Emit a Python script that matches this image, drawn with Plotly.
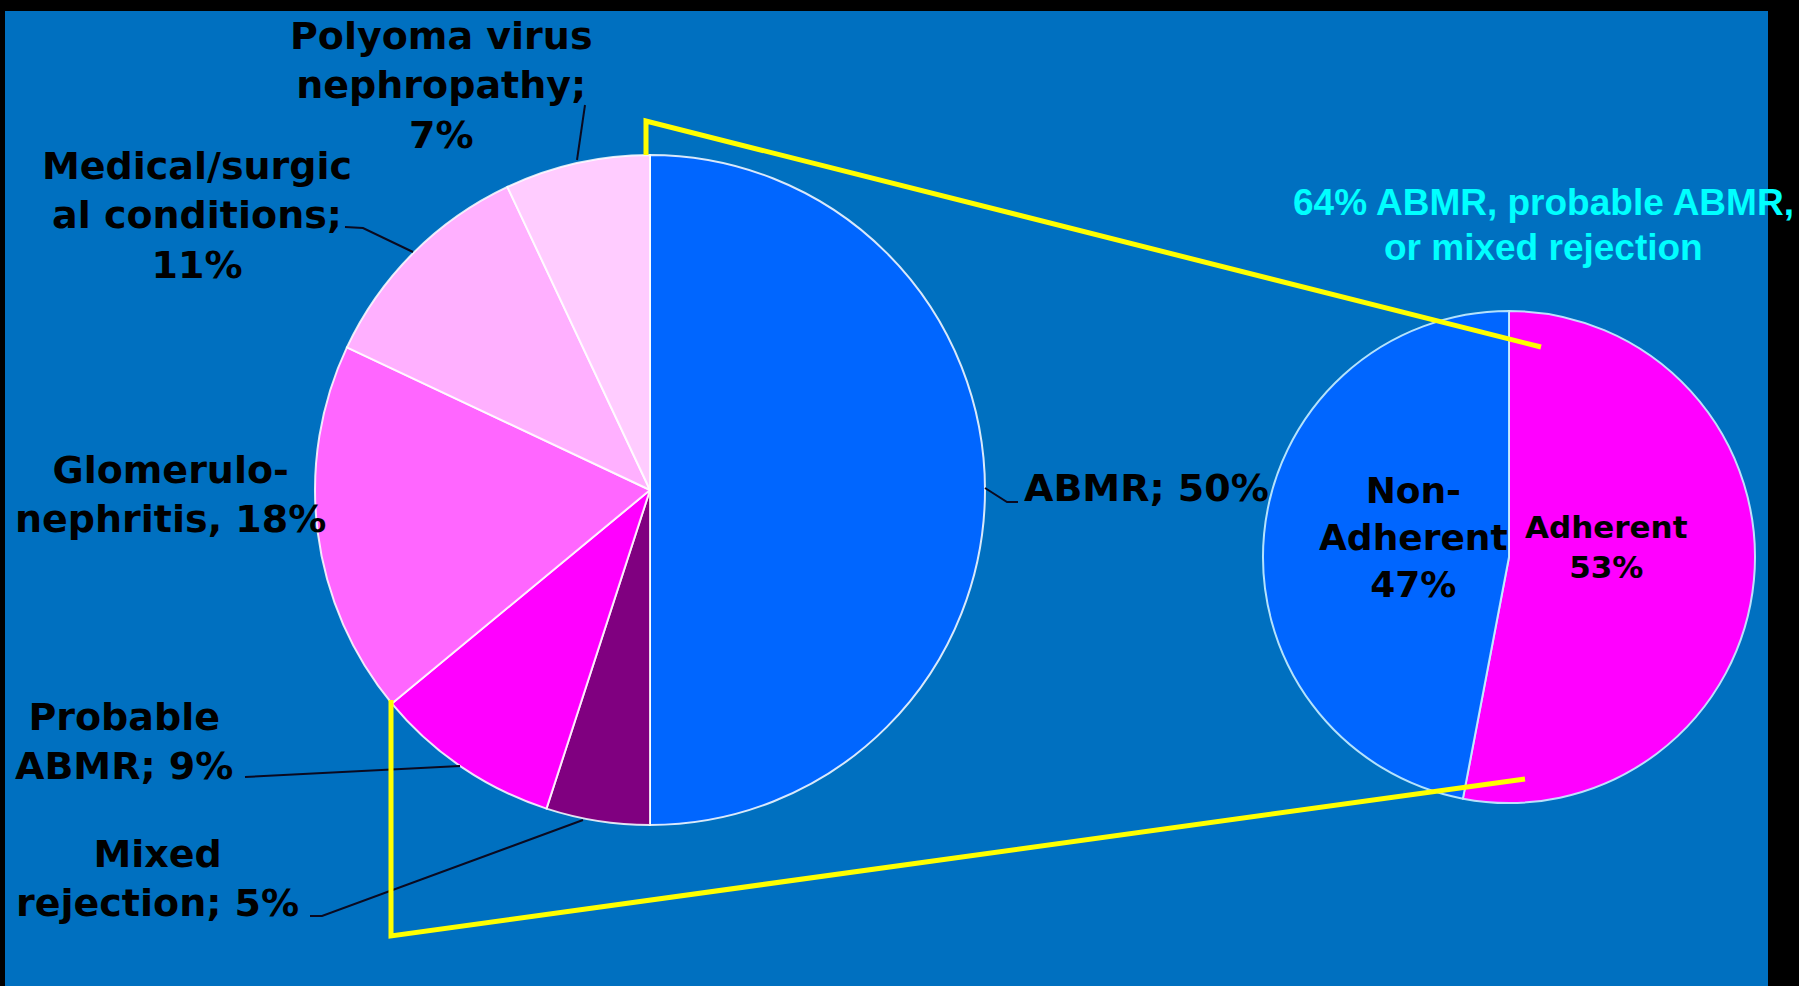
import plotly.graph_objects as go

W, H = 1799, 986

# ---------------- data ----------------
causes = ["ABMR", "Mixed rejection", "Probable ABMR", "Glomerulonephritis",
          "Medical/surgical conditions", "Polyoma virus nephropathy"]
cause_pct = [50, 5, 9, 18, 11, 7]
cause_colors = ["#0066FF", "#800080", "#FF00FF", "#FF66FF", "#FFB0FF", "#FFCCFF"]

adherence = ["Adherent", "Non-Adherent"]
adherence_pct = [53, 47]
adherence_colors = ["#FF00FF", "#0066FF"]

highlight_text = ["64% ABMR, probable ABMR,", "or mixed rejection"]

BG_BLUE = "#0070C0"


def px(x):
    return x / W


def py(y):
    return 1 - y / H


def dom(cx, cy, r):
    return dict(x=[px(cx - r), px(cx + r)], y=[py(cy + r), py(cy - r)])


fig = go.Figure()

fig.add_trace(go.Pie(
    labels=causes, values=cause_pct, sort=False, direction="clockwise", rotation=0,
    marker=dict(colors=cause_colors, line=dict(color="rgba(255,255,255,0.85)", width=2)),
    textinfo="none", hoverinfo="label+percent", showlegend=False,
    domain=dom(650, 490, 335),
))

fig.add_trace(go.Pie(
    labels=adherence, values=adherence_pct, sort=False, direction="clockwise", rotation=0,
    marker=dict(colors=adherence_colors, line=dict(color="rgba(200,240,255,0.9)", width=2)),
    textinfo="none", hoverinfo="label+percent", showlegend=False,
    domain=dom(1509, 557, 246),
))

shapes = []
# blue slide background inside black frame
shapes.append(dict(type="rect", xref="paper", yref="paper", layer="below",
                   x0=px(5), x1=px(1768), y0=py(990), y1=py(11),
                   fillcolor=BG_BLUE, line=dict(width=0)))


def polyline(points, color, width):
    path = "M " + " L ".join(f"{px(x)},{py(y)}" for x, y in points)
    shapes.append(dict(type="path", xref="paper", yref="paper", path=path,
                       line=dict(color=color, width=width)))


# leader lines
LEAD = "#0a0a20"
polyline([(585, 105), (577, 160)], LEAD, 2)
polyline([(345, 227), (363, 228), (413, 252)], LEAD, 2)
polyline([(985, 488), (1007, 502), (1018, 502)], LEAD, 2)
polyline([(245, 777), (460, 766)], LEAD, 2)
polyline([(310, 916), (322, 916), (583, 820)], LEAD, 2)

# yellow zoom connectors
YEL = "#FFFF00"
polyline([(646, 155), (646, 121), (1541, 347)], YEL, 5)
polyline([(391, 700), (391, 936), (1525, 779)], YEL, 5)

fig.update_layout(shapes=shapes)

LABEL_FONT = dict(family="DejaVu Sans, Verdana, sans-serif", size=38, color="#000000")


def label(text, x, y, xanchor="center", font=LABEL_FONT):
    fig.add_annotation(text=text, x=px(x), y=py(y), xref="paper", yref="paper",
                       showarrow=False, xanchor=xanchor, yanchor="middle",
                       align="center", font=font)


def bold(s):
    return f"<b>{s}</b>"


label(bold(f"Polyoma virus<br>nephropathy;<br>{cause_pct[5]}%"), 441, 85)
label(bold(f"Medical/surgic<br>al conditions;<br>{cause_pct[4]}%"), 197, 215)
label(bold(f"Glomerulo-<br>nephritis, {cause_pct[3]}%"), 170, 495)
label(bold(f"ABMR; {cause_pct[0]}%"), 1022, 488, xanchor="left")
label(bold(f"Probable<br>ABMR; {cause_pct[2]}%"), 124, 741)
label(bold(f"Mixed<br>rejection; {cause_pct[1]}%"), 157, 878)

SMALL_FONT_L = dict(family="DejaVu Sans, Verdana, sans-serif", size=36, color="#000000")
SMALL_FONT_R = dict(family="DejaVu Sans, Verdana, sans-serif", size=31, color="#000000")
label(bold(f"Non-<br>{adherence[0]}<br>{adherence_pct[1]}%"), 1413, 537, font=SMALL_FONT_L)
label(bold(f"{adherence[0]}<br>{adherence_pct[0]}%"), 1606, 547, font=SMALL_FONT_R)

CYAN_FONT = dict(family="Liberation Sans, Arial, sans-serif", size=37, color="#00FFFF")
label(bold(highlight_text[0]), 1543, 203, font=CYAN_FONT)
label(bold(highlight_text[1]), 1543, 247, font=CYAN_FONT)

fig.update_layout(
    width=W, height=H,
    margin=dict(l=0, r=0, t=0, b=0),
    paper_bgcolor="#000000",
    plot_bgcolor="#000000",
)

fig.write_html(
    "out.html",
    config={"displayModeBar": False},
    post_script="document.body.style.margin='0px';document.body.style.background='#000';"
                "document.body.style.overflow='hidden';",
)
